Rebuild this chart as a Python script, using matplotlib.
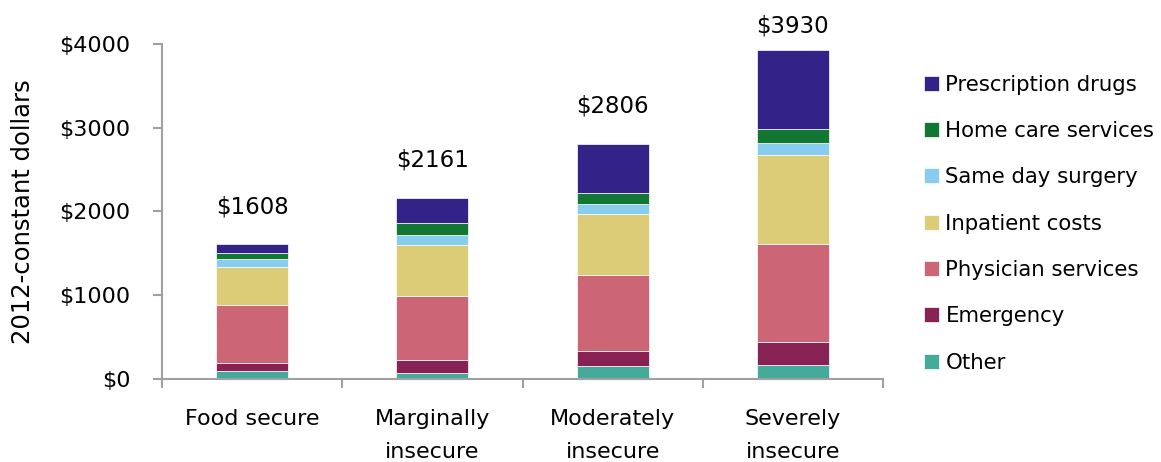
import numpy as np
import matplotlib
matplotlib.use("Agg")
import matplotlib.pyplot as plt

categories = ["Food secure", "Marginally\ninsecure", "Moderately\ninsecure", "Severely\ninsecure"]
totals = [1608, 2161, 2806, 3930]

# stacked from the bottom up
series = ["Other", "Emergency", "Physician services", "Inpatient costs",
          "Same day surgery", "Home care services", "Prescription drugs"]
other = [90, 75, 160, 170]
emergency = [105, 150, 175, 275]
physician = [685, 765, 905, 1165]
inpatient = [460, 605, 730, 1065]
same_day = [95, 120, 120, 140]
home_care = [65, 145, 130, 175]
drugs = [108, 301, 586, 940]
colors = ["#44AA99", "#882255", "#CC6677", "#DDCC77", "#88CCEE", "#117733", "#332288"]

plt.rcParams["font.family"] = "DejaVu Sans"

fig = plt.figure(figsize=(11.61, 4.62), dpi=100)
ax = fig.add_axes([0.1395, 0.1797, 0.6211, 0.7251])

x = np.arange(len(categories))
bottom = np.zeros(len(categories))
handles = []
for name, vals, c in zip(series, [other, emergency, physician, inpatient, same_day, home_care, drugs], colors):
    b = ax.bar(x, vals, 0.4, bottom=bottom, color=c, edgecolor="white", linewidth=0.5, label=name)
    handles.append(b)
    bottom += np.array(vals)

# total labels above bars (last one squeezed under the top edge)
for xi, t in zip(x, totals):
    off = 27 if t < 3500 else 17
    ax.annotate("$%d" % t, (xi, t), xytext=(0, off), textcoords="offset points",
                ha="center", va="center", fontsize=16.5, annotation_clip=False)

ax.set_xlim(-0.5, 3.5)
ax.set_ylim(0, 4000)
ax.set_yticks([0, 1000, 2000, 3000, 4000])
ax.set_yticklabels(["$0", "$1000", "$2000", "$3000", "$4000"])
ax.set_xticks(x)
ax.set_xticklabels(categories, linespacing=1.8)
ax.set_xticks([-0.5, 0.5, 1.5, 2.5, 3.5], minor=True)

for s in ["top", "right"]:
    ax.spines[s].set_visible(False)
for s in ["left", "bottom"]:
    ax.spines[s].set_color("#A0A0A0")
    ax.spines[s].set_linewidth(1.5)

ax.tick_params(axis="y", length=6.5, width=1.5, color="#A0A0A0", labelsize=16, pad=16)
ax.tick_params(axis="x", which="major", length=0, labelsize=16, pad=21.5)
ax.tick_params(axis="x", which="minor", length=6.5, width=1.5, color="#A0A0A0")

ax.set_ylabel("2012-constant dollars", fontsize=17.5, labelpad=18)

ax.legend(handles[::-1], series[::-1], loc="center left", bbox_to_anchor=(0.796, 0.516),
          bbox_transform=fig.transFigure, frameon=False, fontsize=15.3,
          handlelength=0.7, handleheight=0.7, handletextpad=0.3,
          labelspacing=1.24, borderpad=0, borderaxespad=0)

fig.savefig("out.png", dpi=100)
